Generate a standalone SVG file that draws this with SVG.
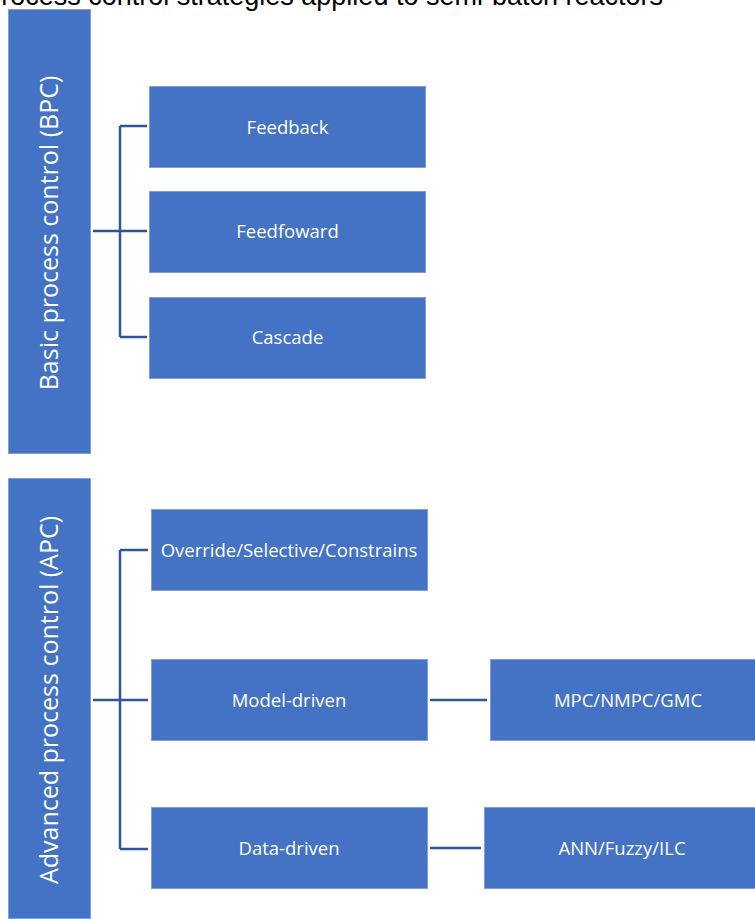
<svg xmlns="http://www.w3.org/2000/svg" width="755" height="919" viewBox="0 0 755 919">
<style>
.box{fill:#4472C4;stroke:#7F9FD8;stroke-width:1}
.lbl{font-family:"Open Sans","Noto Sans",sans-serif;font-size:18.5px;fill:#FFFFFF;text-anchor:middle}
.vlbl{font-family:"Open Sans","Noto Sans",sans-serif;font-size:25px;fill:#FFFFFF;text-anchor:middle}
.title{font-family:"Liberation Sans",Arial,sans-serif;font-size:27px;fill:#000000;text-anchor:end}
.conn{stroke:#2F5597;stroke-width:2.5;fill:none}
</style>
<rect width="755" height="919" fill="#FFFFFF"/>
<text class="title" x="663" y="5">Process control strategies applied to semi-batch reactors</text>
<g id="connectors">
<path class="conn" d="M93 231H120M120 126V337M120 126H147M120 231H147M120 337H147"/>
<path class="conn" d="M93 700H120M120 550V849M120 550H148M120 700H148M120 849H148"/>
<path class="conn" d="M430 700H487"/>
<path class="conn" d="M430 848H481"/>
</g>
<g id="bpc">
<rect class="box" x="8.5" y="9.5" width="82" height="444"/>
<text class="vlbl" transform="translate(58 233) rotate(-90)">Basic process control (BPC)</text>
</g>
<g id="feedback">
<rect class="box" x="149.5" y="86.5" width="276" height="81"/>
<text class="lbl" x="287.5" y="133.5">Feedback</text>
</g>
<g id="feedforward">
<rect class="box" x="149.5" y="191.5" width="276" height="81"/>
<text class="lbl" x="287.5" y="238">Feedfoward</text>
</g>
<g id="cascade">
<rect class="box" x="149.5" y="297.5" width="276" height="81"/>
<text class="lbl" x="287.5" y="344">Cascade</text>
</g>
<g id="apc">
<rect class="box" x="8.5" y="478.5" width="82" height="440"/>
<text class="vlbl" transform="translate(58 700) rotate(-90)">Advanced process control (APC)</text>
</g>
<g id="override">
<rect class="box" x="151.5" y="509.5" width="276" height="81"/>
<text class="lbl" x="289" y="557">Override/Selective/Constrains</text>
</g>
<g id="model-driven">
<rect class="box" x="151.5" y="659.5" width="276" height="81"/>
<text class="lbl" x="289" y="707">Model-driven</text>
</g>
<g id="data-driven">
<rect class="box" x="151.5" y="807.5" width="276" height="81"/>
<text class="lbl" x="289" y="855">Data-driven</text>
</g>
<g id="mpc">
<rect class="box" x="490.5" y="659.5" width="276" height="81"/>
<text class="lbl" x="628" y="707">MPC/NMPC/GMC</text>
</g>
<g id="ann">
<rect class="box" x="484.5" y="807.5" width="276" height="81"/>
<text class="lbl" x="622" y="855">ANN/Fuzzy/ILC</text>
</g>
</svg>
